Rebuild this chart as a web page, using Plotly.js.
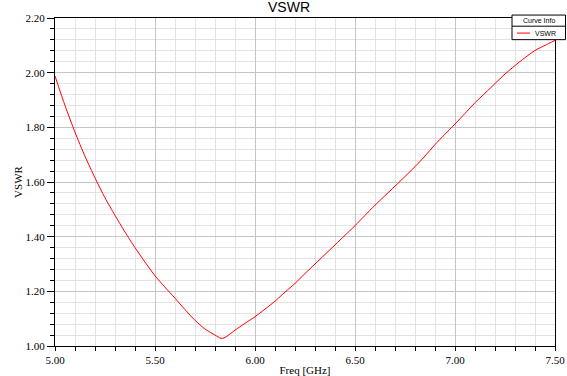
<!DOCTYPE html>
<html>
<head>
<meta charset="utf-8">
<script src="https://cdn.plot.ly/plotly-3.0.1.min.js"></script>
<style>html,body{margin:0;padding:0;background:#fff;}#chart{width:567px;height:376px;}</style>
</head>
<body>
<div id="chart"></div>
<script>
const freq = [5.00,5.05,5.10,5.15,5.20,5.25,5.30,5.35,5.40,5.45,5.50,5.55,5.60,5.65,5.70,5.75,5.80,5.83,5.85,5.90,5.95,6.00,6.05,6.10,6.15,6.20,6.25,6.30,6.35,6.40,6.45,6.50,6.55,6.60,6.65,6.70,6.75,6.80,6.85,6.90,6.95,7.00,7.05,7.10,7.15,7.20,7.25,7.30,7.35,7.40,7.45,7.50];
const vswr = [1.988,1.880,1.782,1.694,1.615,1.542,1.478,1.417,1.360,1.307,1.257,1.215,1.175,1.133,1.094,1.062,1.040,1.028,1.031,1.058,1.083,1.107,1.135,1.164,1.197,1.229,1.265,1.300,1.335,1.370,1.405,1.440,1.478,1.515,1.550,1.585,1.620,1.656,1.695,1.737,1.775,1.812,1.851,1.890,1.925,1.960,1.995,2.026,2.055,2.081,2.100,2.118];
const seriesName = 'VSWR';
const legendTitle = 'Curve Info';

const serif = '"Liberation Serif", "Times New Roman", serif';
const sans = '"Liberation Sans", Arial, sans-serif';

const trace = {x: freq, y: vswr, type: 'scatter', mode: 'lines', name: seriesName,
  line: {color: '#ff0000', width: 1, shape: 'spline', smoothing: 0.6}, showlegend: false};

const axisCommon = {
  showline: true, linecolor: '#000', linewidth: 1, mirror: true,
  ticks: 'outside', tickcolor: '#000', tickformat: '.2f',
  tickfont: {family: serif, size: 11, color: '#000'},
  gridcolor: '#c4c4c4', gridwidth: 1, zeroline: false
};

const layout = {
  width: 567, height: 376,
  margin: {l: 55, r: 12, t: 18, b: 30},
  paper_bgcolor: '#fff', plot_bgcolor: '#fff',
  title: {text: 'VSWR', font: {family: sans, size: 14, color: '#000'},
    xref: 'paper', x: 0.468, xanchor: 'center', yref: 'container', y: 0.995, yanchor: 'top'},
  xaxis: Object.assign({}, axisCommon, {
    range: [5, 7.5], dtick: 0.5, tick0: 5, ticklen: 4,
    minor: {dtick: 0.1, showgrid: true, gridcolor: '#e3e3e3', ticks: 'outside', ticklen: 4, tickcolor: '#000'},
    title: {text: 'Freq [GHz]', font: {family: serif, size: 11, color: '#000'}, standoff: 2}
  }),
  yaxis: Object.assign({}, axisCommon, {
    range: [1, 2.2], dtick: 0.2, tick0: 1, ticklen: 7,
    minor: {dtick: 0.04, showgrid: true, gridcolor: '#e3e3e3', ticks: 'outside', ticklen: 4, tickcolor: '#000'},
    title: {text: 'VSWR', font: {family: serif, size: 11, color: '#000'}, standoff: 0}
  }),
  shapes: [
    {type: 'rect', xref: 'paper', yref: 'paper', x0: 0.914, x1: 1.021, y0: 0.934, y1: 1.009,
      line: {color: '#000', width: 1}, fillcolor: '#fff', layer: 'above'},
    {type: 'line', xref: 'paper', yref: 'paper', x0: 0.914, x1: 1.021, y0: 0.975, y1: 0.975,
      line: {color: '#000', width: 1}, layer: 'above'},
    {type: 'line', xref: 'paper', yref: 'paper', x0: 0.924, x1: 0.950, y0: 0.954, y1: 0.954,
      line: {color: '#ff0000', width: 1}, layer: 'above'}
  ],
  annotations: [
    {text: legendTitle, xref: 'paper', yref: 'paper', x: 0.968, y: 0.992, xanchor: 'center', yanchor: 'middle',
      showarrow: false, font: {family: sans, size: 7, color: '#000'}},
    {text: seriesName, xref: 'paper', yref: 'paper', x: 0.98, y: 0.954, xanchor: 'center', yanchor: 'middle',
      showarrow: false, font: {family: sans, size: 7, color: '#000'}}
  ]
};

Plotly.newPlot('chart', [trace], layout, {displayModeBar: false, staticPlot: true});
</script>
</body>
</html>
